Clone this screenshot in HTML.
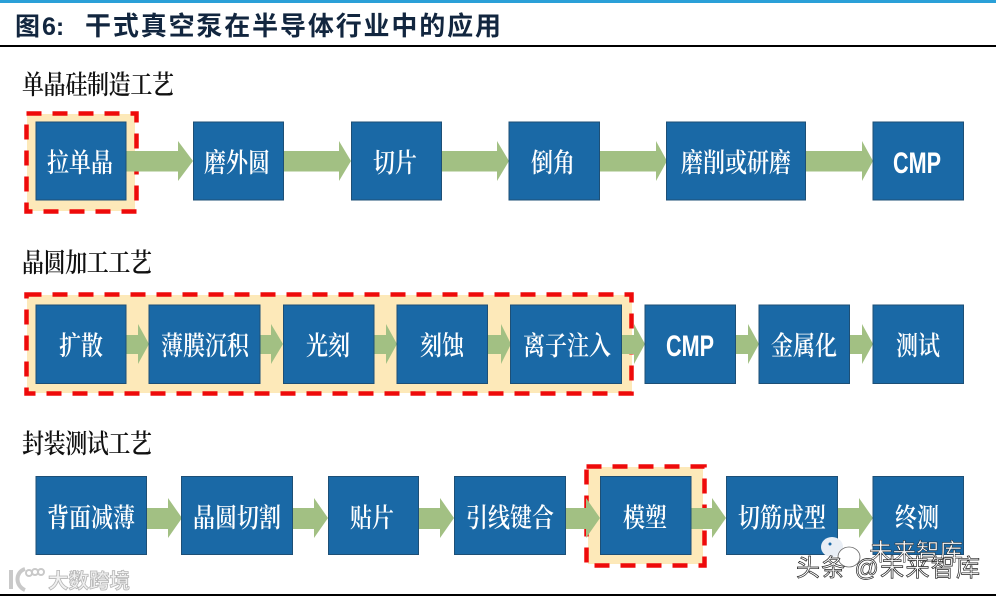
<!DOCTYPE html>
<html lang="zh"><head><meta charset="utf-8"><style>
html,body{margin:0;padding:0;background:#fff;width:996px;height:598px;overflow:hidden}
svg{display:block}
.b{fill:#1a69a6;stroke:#1d4f76;stroke-width:1}
.t{font-family:"Noto Serif CJK SC",serif;font-size:22px;fill:#fff;text-anchor:middle;font-weight:600;transform-box:fill-box;transform-origin:center;transform:scaleY(1.22)}
.c{font-family:"Liberation Sans",sans-serif;font-size:30px;font-weight:bold;fill:#fff;text-anchor:middle}
.h{font-family:"Noto Serif CJK SC",serif;font-size:22px;fill:#111;font-weight:600;transform-box:fill-box;transform-origin:center;transform:scaleY(1.22)}
.a{fill:#a2c083}
.hl{fill:#fde9b9}
.d{fill:none;stroke:#ee0a0a;stroke-width:4.5;stroke-dasharray:15 11}
</style></head><body>
<svg width="996" height="598" viewBox="0 0 996 598" xmlns="http://www.w3.org/2000/svg">
<rect x="0" y="0" width="996" height="3" fill="#2aa0d8"/>
<rect x="0" y="45" width="996" height="2" fill="#000"/>
<rect x="0" y="594" width="996" height="2" fill="#000"/>
<text x="15" y="35" font-family="'Liberation Sans','Noto Sans CJK SC',sans-serif" font-size="25" font-weight="bold" fill="#12263f">图<tspan dx="2">6:</tspan></text>
<text x="85" y="35" font-family="'Liberation Sans','Noto Sans CJK SC',sans-serif" font-size="26" font-weight="bold" fill="#12263f" textLength="416" lengthAdjust="spacing">干式真空泵在半导体行业中的应用</text>

<text class="h" x="22" y="92" textLength="152">单晶硅制造工艺</text>
<text class="h" x="22" y="270" textLength="130">晶圆加工工艺</text>
<text class="h" x="22" y="451" textLength="130">封装测试工艺</text>

<!-- highlights -->
<rect class="hl" x="27" y="114" width="108" height="97"/>
<rect class="hl" x="27" y="295" width="605" height="98"/>
<rect class="hl" x="588" y="467" width="115" height="97"/>

<!-- dashed -->
<rect class="d" x="26.500" y="113.500" width="110" height="98"/>
<rect class="d" x="26.500" y="294.500" width="605" height="99"/>
<rect class="d" x="586.500" y="466.500" width="118" height="99"/>

<!-- arrows row 1 -->
<path class="a" d="M126 151H178V141L193 161L178 181V171.500H126Z"/>
<path class="a" d="M284 151H339V141L351 161L339 181V171.500H284Z"/>
<path class="a" d="M441 151H497V141L509 161L497 181V171.500H441Z"/>
<path class="a" d="M600 151H656V141L667 161L656 181V171.500H600Z"/>
<path class="a" d="M806 151H862V141L873 161L862 181V171.500H806Z"/>
<!-- arrows row 2 -->
<path class="a" d="M126 335H138V324L149 344L138 364V354H126Z"/>
<path class="a" d="M260 335H271V324L283 344L271 364V354H260Z"/>
<path class="a" d="M374 335H386V324L397 344L386 364V354H374Z"/>
<path class="a" d="M488 335H501V324L511 344L501 364V354H488Z"/>
<path class="a" d="M622 335H634V324L645 344L634 364V354H622Z"/>
<path class="a" d="M736 335H748V324L759 344L748 364V354H736Z"/>
<path class="a" d="M850 335H862V324L873 344L862 364V354H850Z"/>
<!-- arrows row 3 -->
<path class="a" d="M147 508H168V498L182 518L168 538V529H147Z"/>
<path class="a" d="M293 508H314V498L328 518L314 538V529H293Z"/>
<path class="a" d="M419 508H440V498L454 518L440 538V529H419Z"/>
<path class="a" d="M565 508H586V498L600 518L586 538V529H565Z"/>
<path class="a" d="M691 508H712V498L726 518L712 538V529H691Z"/>
<path class="a" d="M837 508H859V498L873 518L859 538V529H837Z"/>

<!-- boxes row 1 -->
<rect class="b" x="36" y="122" width="90" height="78"/><text class="t" x="80" y="170">拉单晶</text>
<rect class="b" x="193.500" y="122" width="90" height="78"/><text class="t" x="237" y="170">磨外圆</text>
<rect class="b" x="351.500" y="122" width="90" height="78"/><text class="t" x="395" y="170">切片</text>
<rect class="b" x="509" y="122" width="90.500" height="78"/><text class="t" x="553" y="170">倒角</text>
<rect class="b" x="666.500" y="122" width="139" height="78"/><text class="t" x="736" y="170">磨削或研磨</text>
<rect class="b" x="873" y="122" width="90.500" height="78"/><text class="c" x="917" y="173" textLength="48" lengthAdjust="spacingAndGlyphs">CMP</text>
<!-- boxes row 2 -->
<rect class="b" x="36" y="305" width="90" height="78.500"/><text class="t" x="81" y="353">扩散</text>
<rect class="b" x="149" y="305" width="111" height="78.500"/><text class="t" x="205" y="353">薄膜沉积</text>
<rect class="b" x="283.500" y="305" width="90.500" height="78.500"/><text class="t" x="328" y="353">光刻</text>
<rect class="b" x="397" y="305" width="90.500" height="78.500"/><text class="t" x="442" y="353">刻蚀</text>
<rect class="b" x="510.500" y="305" width="111" height="78.500"/><text class="t" x="567" y="353">离子注入</text>
<rect class="b" x="645" y="305" width="90.500" height="78.500"/><text class="c" x="690" y="356" textLength="48" lengthAdjust="spacingAndGlyphs">CMP</text>
<rect class="b" x="759" y="305" width="90.500" height="78.500"/><text class="t" x="804" y="353">金属化</text>
<rect class="b" x="873" y="305" width="90.500" height="78.500"/><text class="t" x="918" y="353">测试</text>
<!-- boxes row 3 -->
<rect class="b" x="36" y="476.500" width="110.500" height="78"/><text class="t" x="91" y="525">背面减薄</text>
<rect class="b" x="181.500" y="476.500" width="111" height="78"/><text class="t" x="237" y="525">晶圆切割</text>
<rect class="b" x="328.500" y="476.500" width="90" height="78"/><text class="t" x="372" y="525">贴片</text>
<rect class="b" x="454.500" y="476.500" width="111" height="78"/><text class="t" x="510" y="525">引线键合</text>
<rect class="b" x="600.500" y="476.500" width="90.500" height="78"/><text class="t" x="645" y="525">模塑</text>
<rect class="b" x="726.500" y="476.500" width="111" height="78"/><text class="t" x="782" y="525">切筋成型</text>
<rect class="b" x="873" y="476.500" width="90.500" height="78"/><text class="t" x="917" y="525">终测</text>

<!-- watermarks -->
<text x="48" y="588" font-family="'Noto Sans CJK SC',sans-serif" font-size="20.500" font-weight="bold" fill="#f0f0f0" stroke="#b5b5b5" stroke-width="0.800">大数跨境</text>
<path d="M11 570V589M25 569C15 572 15 586 25 590" fill="none" stroke="#c9c9c9" stroke-width="4"/>
<g fill="none" stroke="#c9c9c9" stroke-width="2"><circle cx="29" cy="573" r="3"/><circle cx="35" cy="572" r="3"/><circle cx="41" cy="572" r="3"/></g>
<ellipse cx="832" cy="547" rx="11" ry="10" fill="#e9eef5"/>
<circle cx="830" cy="544" r="1.500" fill="#1a69a6"/>
<ellipse cx="849" cy="557" rx="11" ry="10" fill="#fff" stroke="#666" stroke-width="0.800"/>
<text x="869" y="560" font-family="'Noto Sans CJK SC',sans-serif" font-size="23.500" fill="#fff" stroke="#222" stroke-width="0.500" textLength="94">未来智库</text>
<text x="796" y="576" font-family="'Liberation Sans','Noto Sans CJK SC',sans-serif" font-size="24" fill="#fff" stroke="#222" stroke-width="0.700" textLength="184">头条 @未来智库</text>
</svg>
</body></html>
